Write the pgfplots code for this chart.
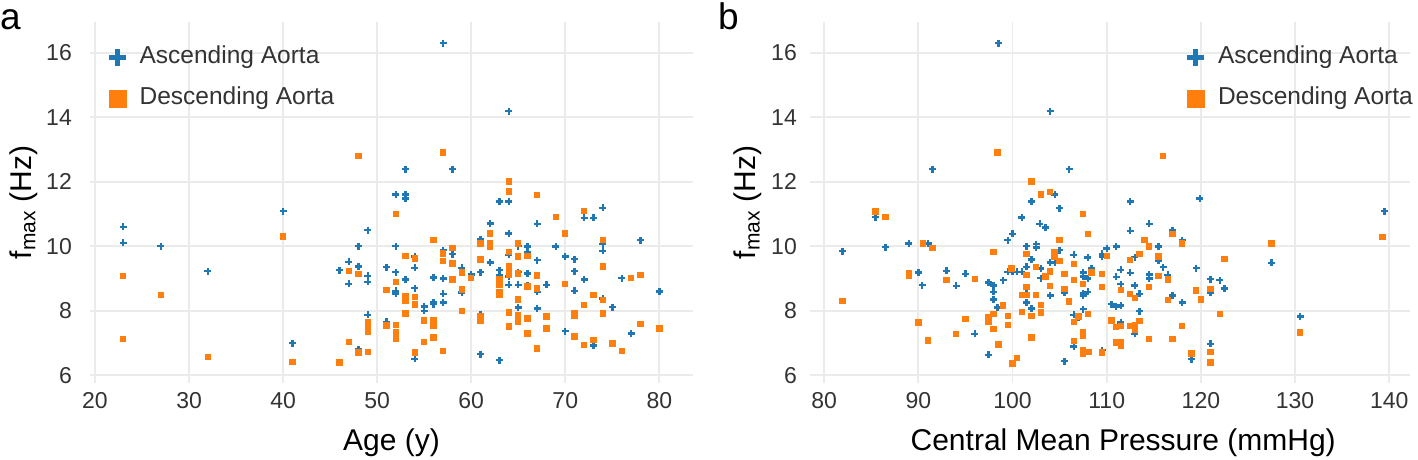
\documentclass[border=0pt]{standalone}
\usepackage{pgfplots}
\pgfplotsset{compat=1.18}
\usepackage{fontspec}
\setmainfont{Liberation Sans}
\definecolor{cblue}{HTML}{1F77B4}
\definecolor{corange}{HTML}{FF7F0E}
\definecolor{gridc}{HTML}{EBEBEB}
\definecolor{tickc}{HTML}{333333}
\pgfplotsset{
  myax/.style={
    scale only axis, height=361pt,
    ymin=5.76, ymax=16.95,
    ytick={6,8,10,12,14,16},
    axis line style={draw=none},
    tick style={draw=none},
    major tick length=0pt,
    grid=major,
    grid style={line width=1.8pt, color=gridc},
    /pgf/number format/assume math mode=true,
    tick label style={font=\fontsize{23}{27}\selectfont, text=tickc},
    xticklabel style={anchor=center, yshift=-18pt},
    yticklabel style={anchor=east, inner sep=0pt},
    every axis x label/.style={at={(axis description cs:0.5,-0.166)}, anchor=center, font=\fontsize{30}{36}\selectfont},
    every axis y label/.style={rotate=90, anchor=center, font=\fontsize{30}{36}\selectfont},
    legend cell align=left,
    legend style={draw=none, fill=none, inner sep=0pt, row sep=21.9pt,
      font=\fontsize{24.5}{29}\selectfont, text=tickc,
      nodes={inner sep=0pt},
      /tikz/every odd column/.append style={column sep=13.7pt}},
  },
  asc/.style={only marks, mark=+, mark size=3.5pt, mark options={line width=2.4pt, color=cblue},
    legend image code/.code={\path (-8.35pt,0pt) -- (8.35pt,0pt);
      \draw[overlay, line width=5pt, color=cblue] (-8.35pt,-2.2pt) -- (8.35pt,-2.2pt) (0pt,-10.55pt) -- (0pt,6.15pt);}},
  desc/.style={only marks, mark=square*, mark size=2.7pt, mark options={fill=corange, draw=corange, line width=0pt},
    legend image code/.code={\path (-8.35pt,0pt) -- (8.35pt,0pt);
      \fill[overlay, corange] (-8.35pt,-10.55pt) rectangle (8.35pt,6.15pt);}},
}
\begin{document}
\begin{tikzpicture}
\path[use as bounding box] (0pt,0pt) rectangle (1418pt,459pt);
\node[anchor=base west, inner sep=0pt, font=\fontsize{37}{44}\selectfont] at (0pt,429pt) {a};
\node[anchor=base west, inner sep=0pt, font=\fontsize{37}{44}\selectfont] at (718pt,429pt) {b};
% ---------------- panel a ----------------
\begin{axis}[myax, at={(90pt,76pt)}, anchor=south west, width=603pt,
  xmin=19.47, xmax=83.58, xtick={20,30,40,50,60,70,80},
  yticklabel style={xshift=-18pt},
  xlabel={Age (y)}, ylabel={f\textsubscript{max} (Hz)},
  y label style={at={(axis description cs:-0.1095,0.5)}},
  legend style={at={(axis description cs:0,1)}, anchor=north west, xshift=18.65pt, yshift=-23.5pt}]
\addplot[asc] table {
23 10.6
23 10.1
27 10.0
32 9.23
40 11.09
41 7.0
46 9.26
47 9.52
47 8.83
48 10.0
48 9.37
48 6.8
49 10.5
49 9.08
49 8.9
49 7.87
51 9.35
51 7.66
52 11.6
52 10.0
52 9.2
52 8.62
52 8.54
53 12.39
53 11.6
53 11.48
53 8.97
54 9.68
54 9.33
54 8.7
54 6.51
55 8.13
55 8.0
56 8.26
56 8.2
56 9.03
57 16.29
57 9.88
57 9.0
57 8.52
57 8.26
58 12.39
58 9.75
59 9.33
59 8.56
60 9.12
61 10.21
61 9.2
61 7.89
61 6.65
62 10.71
62 9.49
63 11.39
63 9.26
63 9.1
63 6.47
64 14.19
64 11.39
64 10.4
64 9.73
64 9.06
64 8.8
65 10.0
65 9.2
65 8.8
65 8.1
66 9.99
66 9.83
66 9.16
66 8.78
67 10.69
67 9.57
67 8.59
67 8.07
68 8.8
69 9.99
70 9.68
70 7.37
71 9.6
71 9.23
71 8.62
72 10.88
72 8.97
73 10.88
73 6.92
74 11.19
74 10.07
74 9.86
74 8.38
75 8.11
76 9.01
77 7.3
78 10.19
80 8.6
};
\addlegendentry{Ascending Aorta}
\addplot[desc] table {
23 9.08
23 7.12
27 8.49
32 6.57
40 10.3
41 6.42
46 6.39
47 9.24
47 7.03
48 12.8
48 9.13
48 6.71
49 7.66
49 7.51
49 7.35
49 6.72
51 8.65
51 7.54
52 11.0
52 8.89
52 7.56
52 7.35
52 7.14
53 9.7
53 8.45
53 8.3
53 7.91
54 9.62
54 8.42
54 8.19
54 6.71
55 7.7
55 7.04
56 10.19
56 7.7
56 7.53
56 7.17
57 12.9
57 9.78
57 9.55
57 6.76
58 9.95
58 9.47
58 8.97
59 9.18
59 8.66
59 7.99
60 9.02
61 10.09
61 9.59
61 7.82
61 7.7
62 10.4
62 10.09
62 9.99
63 8.97
63 8.79
63 8.59
63 8.49
64 12.0
64 11.69
64 9.83
64 9.37
64 9.23
64 9.11
64 7.95
64 7.51
65 10.09
65 9.68
65 9.16
65 8.35
65 7.85
65 7.66
66 9.7
66 8.75
66 7.76
66 7.3
67 11.59
67 9.09
67 8.69
67 6.83
68 7.82
68 7.45
69 10.9
70 10.4
70 8.83
71 7.92
71 7.84
71 7.2
72 11.09
72 8.18
72 6.94
73 8.49
73 7.09
74 10.19
74 9.37
74 8.33
74 7.92
75 6.99
76 6.76
77 9.01
78 9.1
78 7.58
80 7.45
};
\addlegendentry{Descending Aorta}
\end{axis}
% ---------------- panel b ----------------
\begin{axis}[myax, at={(810pt,76pt)}, anchor=south west, width=600pt,
  xmin=78.5, xmax=142.2, xtick={80,90,100,110,120,130,140},
  yticklabel style={xshift=-13pt},
  xlabel={Central Mean Pressure (mmHg)}, ylabel={f\textsubscript{max} (Hz)},
  x label style={at={(axis description cs:0.522,-0.166)}},
  y label style={at={(axis description cs:-0.103,0.5)}},
  legend style={at={(axis description cs:1,1)}, anchor=north east, xshift=3pt, yshift=-23.5pt}]
\addplot[asc] table {
81.95 9.85
85.45 10.9
86.5 9.97
89.0 10.09
90.0 9.19
90.4 8.79
91.05 10.09
91.5 12.39
93.0 9.24
94.0 8.77
95.0 9.14
96.0 7.28
97.45 8.87
97.45 6.63
98.0 8.78
98.0 8.59
98.0 8.35
98.4 8.10
98.5 16.29
99.0 8.95
99.5 10.19
99.5 9.21
100.0 10.38
100.0 9.21
100.5 9.21
101.0 10.89
101.0 9.21
101.5 10.0
101.5 9.36
101.5 8.69
101.5 8.25
102.0 11.39
102.0 9.59
102.0 8.07
102.5 10.06
102.5 9.96
102.9 10.69
103.0 9.31
103.0 9.01
103.5 10.58
104.0 14.19
104.0 9.50
104.0 8.47
104.5 11.60
104.5 9.50
105.0 11.18
105.0 9.88
105.5 8.56
105.5 6.44
106.0 12.39
106.5 9.73
106.5 7.87
106.5 6.89
107.0 7.78
107.5 9.18
107.5 9.06
107.5 8.54
107.5 8.47
107.5 8.05
108.0 9.65
108.0 9.00
108.0 8.59
108.4 9.31
109.5 9.76
109.5 9.68
109.5 6.78
110.0 9.93
110.5 8.20
111.0 9.99
111.0 9.05
111.0 8.13
111.5 9.27
111.5 8.82
111.5 8.16
111.5 7.64
112.5 11.39
112.5 10.48
112.5 9.17
113.0 9.66
113.0 8.78
113.0 7.28
113.5 8.52
113.5 7.99
114.5 10.69
114.5 9.12
114.5 9.00
115.5 9.99
115.5 9.55
116.0 9.35
116.5 9.11
117.0 10.50
117.0 8.47
118.0 10.19
118.0 8.25
119.0 6.50
119.5 9.32
119.9 11.48
121.0 8.98
121.0 8.56
121.0 6.97
122.0 8.95
122.5 8.69
127.5 9.48
130.55 7.82
139.5 11.09
};
\addlegendentry{Ascending Aorta}
\addplot[desc] table {
81.95 8.31
85.45 11.08
86.5 10.90
89.0 9.16
89.0 9.08
90.0 7.63
90.5 10.09
91.0 7.08
91.5 9.94
93.0 8.96
94.0 7.28
95.0 7.75
96.0 8.99
97.45 7.79
97.45 7.66
98.0 9.82
98.0 7.90
98.0 7.44
98.4 12.90
98.5 6.95
99.0 8.16
99.5 7.83
99.5 7.56
99.9 9.31
100.0 6.37
100.5 6.54
101.0 8.48
101.0 7.97
101.5 9.76
101.5 9.10
101.5 8.73
101.5 8.48
102.0 12.00
102.0 7.83
102.0 7.17
102.5 9.36
102.5 8.48
103.0 11.60
103.0 8.17
103.0 7.95
103.5 9.06
104.0 11.68
104.0 9.22
104.0 8.77
104.46 9.80
104.46 9.68
105.0 10.19
105.0 9.55
105.5 9.14
105.5 8.67
106.0 8.29
106.5 9.45
106.5 8.95
106.5 7.66
106.5 7.06
107.0 7.82
107.5 11.00
107.5 8.82
107.5 7.35
107.5 7.23
107.5 6.78
107.5 6.68
108.0 10.38
108.0 7.90
108.1 6.73
108.4 9.18
109.5 9.14
109.5 8.74
109.5 6.70
110.0 9.70
110.5 7.70
111.0 7.49
111.0 7.01
111.5 8.64
111.5 7.53
111.5 7.01
111.5 6.91
112.5 9.57
112.5 8.52
112.5 7.53
113.0 8.40
113.0 7.56
113.0 7.42
113.5 9.75
113.5 7.68
114.0 10.19
114.5 9.99
114.5 8.73
114.5 7.13
115.5 9.68
115.5 9.08
115.95 12.80
116.5 8.97
116.5 8.33
117.0 10.38
117.0 7.12
118.0 10.09
118.0 7.53
119.0 6.68
119.5 8.63
120.0 8.35
121.0 8.68
121.0 6.72
121.0 6.40
122.0 7.89
122.5 9.61
127.5 10.09
130.55 7.32
139.3 10.29
};
\addlegendentry{Descending Aorta}
\end{axis}
\end{tikzpicture}
\end{document}
